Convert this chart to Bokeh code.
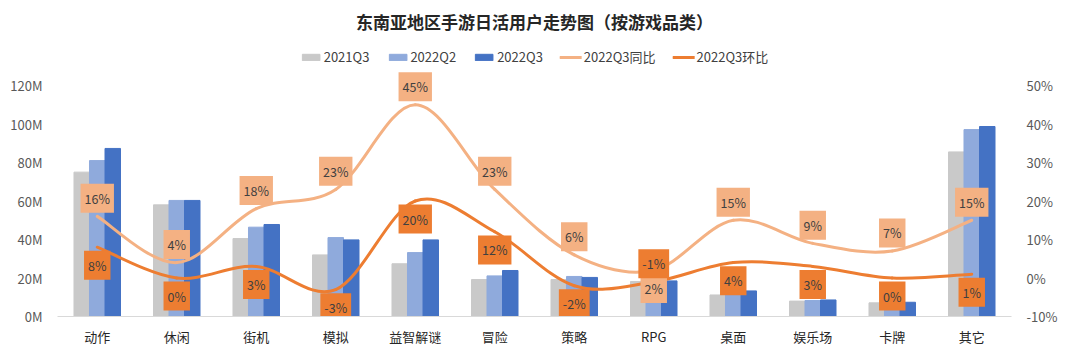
import numpy as np
from bokeh.plotting import figure
from bokeh.models import (Range1d, LinearAxis, FixedTicker, PrintfTickFormatter,
                          NumeralTickFormatter, Legend, LegendItem)
from bokeh.core.properties import value
from bokeh.embed import file_html
from bokeh.resources import INLINE

# ---------------- data ----------------
categories = ["动作", "休闲", "街机", "模拟", "益智解谜", "冒险", "策略", "RPG", "桌面", "娱乐场", "卡牌", "其它"]
dau_2021q3 = [75.0, 58.0, 40.5, 32.0, 27.4, 19.2, 19.2, 18.2, 11.2, 8.0, 7.1, 85.5]   # M
dau_2022q2 = [81.0, 60.3, 46.4, 41.0, 33.2, 21.1, 20.8, 18.6, 12.8, 8.3, 7.3, 97.1]   # M
dau_2022q3 = [87.3, 60.3, 47.8, 39.8, 39.8, 23.9, 20.3, 18.5, 13.3, 8.6, 7.4, 98.7]   # M
yoy_pct = [16, 4, 18, 23, 45, 23, 6, 2, 15, 9, 7, 15]      # 2022Q3同比 (%)
qoq_pct = [8, 0, 3, -3, 20, 12, -2, -1, 4, 3, 0, 1]        # 2022Q3环比 (%)
# label side: +1 above the point, -1 below
yoy_side = [1, 1, 1, 1, 1, 1, 1, -1, 1, 1, 1, 1]
qoq_side = [-1, -1, -1, -1, -1, -1, -1, 1, -1, -1, -1, -1]
left_ticks = [0, 20, 40, 60, 80, 100, 120]
right_ticks = [-0.1, 0.0, 0.1, 0.2, 0.3, 0.4, 0.5]

FONT = "Noto Sans CJK SC"
C_GRAY, C_LB, C_DB = "#C9C9C9", "#8FAADC", "#4472C4"
C_LO, C_DO = "#F4B183", "#ED7D31"

# geometry (pixels): frame top, axis-top tick, frame bottom
F_TOP, A_TOP, F_BOT = 40, 85, 316
ext = (F_BOT - F_TOP) / (F_BOT - A_TOP)

x = np.arange(len(categories), dtype=float)
bw = 0.195

p = figure(width=1080, height=356, x_range=Range1d(-0.5, len(categories) - 0.5),
           y_range=Range1d(0, 120 * ext), output_backend="svg", toolbar_location=None,
           min_border_left=57, min_border_right=69, min_border_top=F_TOP,
           min_border_bottom=356 - F_BOT)
p.extra_y_ranges = {"pct": Range1d(-0.1, -0.1 + 0.6 * ext)}
p.outline_line_color = None
p.xgrid.visible = False
p.ygrid.visible = False
p.background_fill_color = "white"

p.title.text = "东南亚地区手游日活用户走势图（按游戏品类）"
p.title.align = "center"
p.title.vertical_align = "top"
p.title.standoff = 10
p.title.text_font = FONT
p.title.text_font_size = "17px"
p.title.text_font_style = "bold"
p.title.text_color = "#262626"

# axes
p.xaxis.ticker = FixedTicker(ticks=list(range(len(categories))))
p.xaxis.major_label_overrides = {i: c for i, c in enumerate(categories)}
p.xaxis.axis_line_color = "#D9D9D9"
p.xaxis.major_tick_line_color = None
p.xaxis.minor_tick_line_color = None
p.xaxis.major_label_text_font = FONT
p.xaxis.major_label_text_font_size = "13px"
p.xaxis.major_label_text_color = "#262626"
p.xaxis.major_label_standoff = 4

p.yaxis.ticker = FixedTicker(ticks=left_ticks)
p.yaxis.formatter = PrintfTickFormatter(format="%dM")
p.yaxis.axis_line_color = None
p.yaxis.major_tick_line_color = None
p.yaxis.minor_tick_line_color = None
p.yaxis.major_label_text_font = FONT
p.yaxis.major_label_text_font_size = "13px"
p.yaxis.major_label_text_color = "#595959"
p.yaxis.major_label_standoff = 9

ax2 = LinearAxis(y_range_name="pct", ticker=FixedTicker(ticks=right_ticks),
                 formatter=NumeralTickFormatter(format="0%"))
ax2.axis_line_color = None
ax2.major_tick_line_color = None
ax2.minor_tick_line_color = None
ax2.major_label_text_font = FONT
ax2.major_label_text_font_size = "13px"
ax2.major_label_text_color = "#595959"
ax2.major_label_standoff = 9
p.add_layout(ax2, "right")

# bars
r1 = p.vbar(x=x - bw, top=dau_2021q3, width=bw, color=C_GRAY)
r2 = p.vbar(x=x, top=dau_2022q2, width=bw, color=C_LB)
r3 = p.vbar(x=x + bw, top=dau_2022q3, width=bw, color=C_DB)


def smooth(xs, ys):
    P = np.column_stack([xs, ys])
    n = len(P)
    seg = {k: [] for k in ("x0", "y0", "x1", "y1", "cx0", "cy0", "cx1", "cy1")}
    for i in range(n - 1):
        p0, p1, p2, p3 = P[max(i - 1, 0)], P[i], P[i + 1], P[min(i + 2, n - 1)]
        c1 = p1 + (p2 - p0) / 6.0
        c2 = p2 - (p3 - p1) / 6.0
        seg["x0"].append(p1[0]); seg["y0"].append(p1[1])
        seg["x1"].append(p2[0]); seg["y1"].append(p2[1])
        seg["cx0"].append(c1[0]); seg["cy0"].append(c1[1])
        seg["cx1"].append(c2[0]); seg["cy1"].append(c2[1])
    return seg


yoy = np.array(yoy_pct) / 100.0
qoq = np.array(qoq_pct) / 100.0
r4 = p.bezier(**smooth(x, yoy), y_range_name="pct", line_color=C_LO, line_width=3, line_cap="round")
r5 = p.bezier(**smooth(x, qoq), y_range_name="pct", line_color=C_DO, line_width=3, line_cap="round")

off = 0.047
p.text(x=x, y=yoy + off * np.array(yoy_side), text=[f"{v}%" for v in yoy_pct], y_range_name="pct",
       text_align="center", text_baseline="middle", text_font=value(FONT), text_font_size="12.5px",
       text_color="#404040", background_fill_color=C_LO, padding=(4, 5))
p.text(x=x, y=qoq + off * np.array(qoq_side), text=[f"{v}%" for v in qoq_pct], y_range_name="pct",
       text_align="center", text_baseline="middle", text_font=value(FONT), text_font_size="12.5px",
       text_color="#404040", background_fill_color=C_DO, padding=(4, 5))

legend = Legend(items=[LegendItem(label="2021Q3", renderers=[r1]),
                       LegendItem(label="2022Q2", renderers=[r2]),
                       LegendItem(label="2022Q3", renderers=[r3]),
                       LegendItem(label="2022Q3同比", renderers=[r4]),
                       LegendItem(label="2022Q3环比", renderers=[r5])],
                orientation="horizontal", location="top_center")
legend.border_line_color = None
legend.background_fill_alpha = 0
legend.label_text_font = FONT
legend.label_text_font_size = "13px"
legend.label_text_color = "#404040"
legend.glyph_width = 22
legend.glyph_height = 8
legend.label_standoff = 2
legend.spacing = 17
legend.padding = 2
legend.margin = 7
p.add_layout(legend, "center")

open("out.html", "w").write(file_html(p, INLINE))
